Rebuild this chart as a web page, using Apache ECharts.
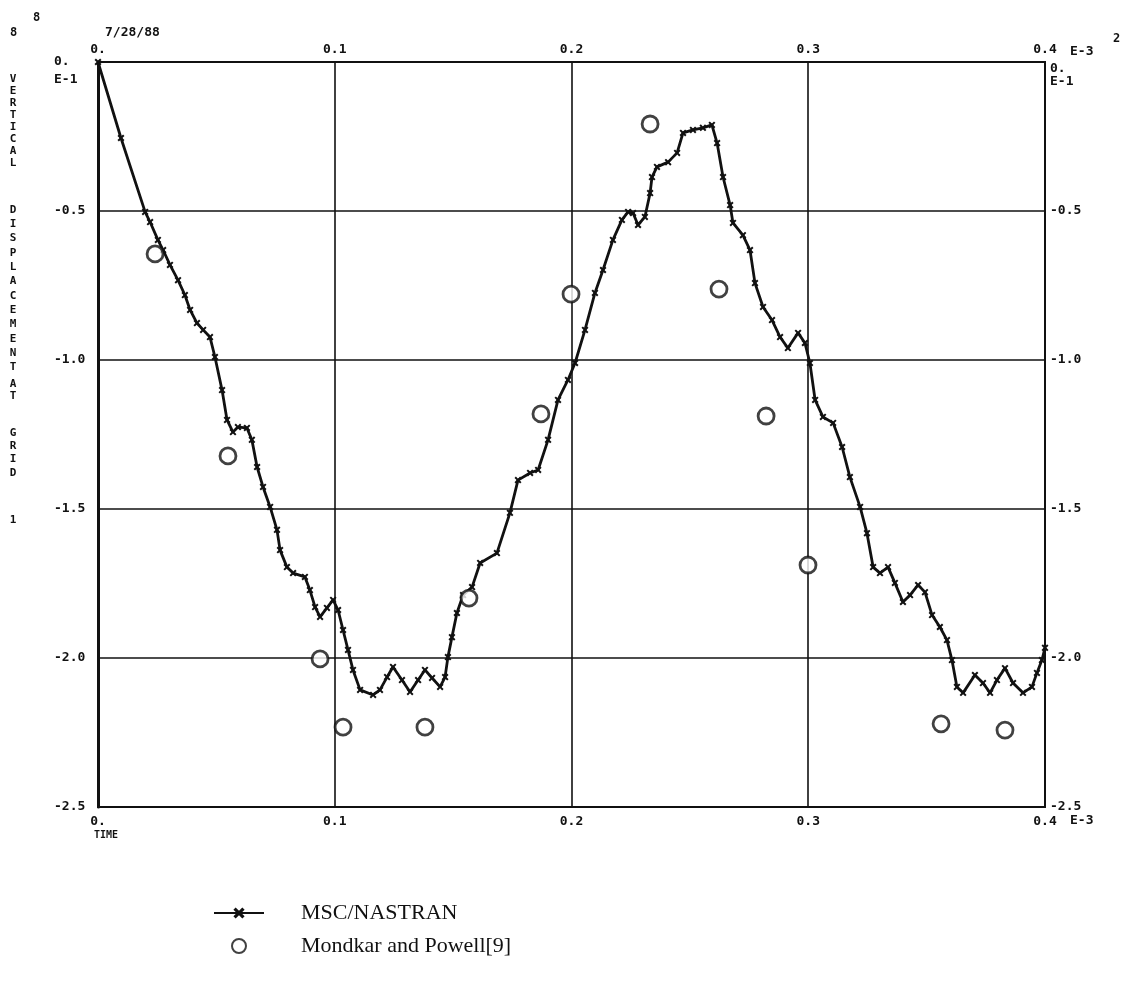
<!DOCTYPE html>
<html>
<head>
<meta charset="utf-8">
<script src="https://cdn.jsdelivr.net/npm/echarts@6/dist/echarts.min.js"></script>
<style>
  html, body { margin: 0; padding: 0; background: #fff; }
  #chart { width: 1122px; height: 983px; }
</style>
</head>
<body>
<div id="chart"></div>
<script>
// Time axis (E-3) and vertical displacement (E-1) at grid 1
const nastranTime = [
  0, 0.0097, 0.0199, 0.0220, 0.0253, 0.0275, 0.0304, 0.0338, 0.0367, 0.0389,
  0.0418, 0.0444, 0.0473, 0.0494, 0.0524, 0.0545, 0.0570, 0.0591, 0.0629, 0.0650,
  0.0672, 0.0697, 0.0727, 0.0756, 0.0769, 0.0798, 0.0824, 0.0874, 0.0895, 0.0917,
  0.0938, 0.0967, 0.0993, 0.1014, 0.1035, 0.1056, 0.1077, 0.1107, 0.1162, 0.1191,
  0.1221, 0.1246, 0.1284, 0.1318, 0.1352, 0.1381, 0.1411, 0.1445, 0.1466, 0.1478,
  0.1495, 0.1516, 0.1542, 0.1580, 0.1614, 0.1685, 0.1740, 0.1774, 0.1825, 0.1859,
  0.1901, 0.1943, 0.1985, 0.2015, 0.2057, 0.2099, 0.2133, 0.2175, 0.2213, 0.2239,
  0.2260, 0.2281, 0.2310, 0.2332, 0.2340, 0.2361, 0.2408, 0.2446, 0.2471, 0.2513,
  0.2555, 0.2593, 0.2615, 0.2640, 0.2670, 0.2682, 0.2724, 0.2754, 0.2775, 0.2809,
  0.2847, 0.2881, 0.2914, 0.2957, 0.2986, 0.3007, 0.3029, 0.3062, 0.3105, 0.3143,
  0.3176, 0.3219, 0.3248, 0.3274, 0.3303, 0.3337, 0.3366, 0.3400, 0.3430, 0.3464,
  0.3493, 0.3523, 0.3556, 0.3586, 0.3607, 0.3628, 0.3654, 0.3704, 0.3738, 0.3768,
  0.3797, 0.3831, 0.3865, 0.3907, 0.3945, 0.3966, 0.3987, 0.4000
];
const nastranDisp = [
  0, -0.255, -0.503, -0.537, -0.597, -0.631, -0.681, -0.732, -0.782, -0.832,
  -0.876, -0.899, -0.923, -0.990, -1.101, -1.201, -1.242, -1.225, -1.228, -1.268,
  -1.359, -1.426, -1.493, -1.570, -1.638, -1.695, -1.715, -1.728, -1.772, -1.829,
  -1.862, -1.832, -1.805, -1.839, -1.906, -1.973, -2.040, -2.107, -2.124, -2.107,
  -2.064, -2.030, -2.074, -2.114, -2.074, -2.040, -2.067, -2.097, -2.064, -1.997,
  -1.930, -1.849, -1.789, -1.762, -1.681, -1.648, -1.513, -1.403, -1.379, -1.369,
  -1.268, -1.134, -1.067, -1.010, -0.899, -0.775, -0.698, -0.597, -0.530, -0.503,
  -0.507, -0.547, -0.520, -0.440, -0.386, -0.352, -0.336, -0.305, -0.238, -0.228,
  -0.221, -0.211, -0.272, -0.386, -0.480, -0.540, -0.581, -0.631, -0.742, -0.822,
  -0.866, -0.923, -0.960, -0.909, -0.943, -1.010, -1.134, -1.191, -1.211, -1.292,
  -1.393, -1.493, -1.581, -1.695, -1.715, -1.695, -1.748, -1.812, -1.789, -1.755,
  -1.779, -1.856, -1.896, -1.940, -2.007, -2.097, -2.117, -2.057, -2.084, -2.117,
  -2.074, -2.034, -2.084, -2.117, -2.097, -2.050, -2.007, -1.966
];
const mondkarTime = [0.0241, 0.0549, 0.0938, 0.1035, 0.1381, 0.1567, 0.1871,
  0.1998, 0.2332, 0.2623, 0.2822, 0.2999, 0.3561, 0.3831];
const mondkarDisp = [-0.644, -1.322, -2.003, -2.232, -2.232, -1.799, -1.181,
  -0.779, -0.208, -0.762, -1.188, -1.688, -2.221, -2.242];

const xTicks = { min: 0, max: 0.4, step: 0.1 };
const yTicks = { min: -2.5, max: 0, step: 0.5 };
const seriesNames = ['MSC/NASTRAN', 'Mondkar and Powell[9]'];
const titleWords = ['VERTICAL', 'DISPLACEMENT', 'AT', 'GRID', '1'];

const INK = '#111';
const plotFont = 'DejaVu Sans Mono';
const crossSymbol = 'path://M0,2L2,0L5,3L8,0L10,2L7,5L10,8L8,10L5,7L2,10L0,8L3,5Z';

function xLabel(v) {
  if (Math.abs(v) < 1e-9) return '0.';
  return v.toFixed(1);
}
function yLabelLeft(v) {
  if (Math.abs(v) < 1e-9) return '\n0.\nE-1';
  return v.toFixed(1);
}
function yLabelRight(v) {
  if (Math.abs(v) < 1e-9) return '\n\n0.\nE-1';
  return v.toFixed(1);
}

const labelStyle = { color: INK, fontFamily: plotFont, fontWeight: 'bold', fontSize: 13 };

const chart = echarts.init(document.getElementById('chart'), null, { renderer: 'canvas' });

const option = {
  backgroundColor: '#fff',
  animation: false,
  grid: {
    left: 98, right: 77, top: 62, bottom: 176,
    show: true, borderColor: INK, borderWidth: 2, backgroundColor: 'transparent'
  },
  xAxis: [
    {
      type: 'value', position: 'bottom',
      min: xTicks.min, max: xTicks.max, interval: xTicks.step,
      axisLine: { show: true, lineStyle: { color: INK, width: 2 } },
      axisTick: { show: false },
      splitLine: { show: true, lineStyle: { color: INK, width: 1.6 } },
      axisLabel: Object.assign({}, labelStyle, {
        margin: 8,
        formatter: function (v) {
          if (Math.abs(v) < 1e-9) return '0.\n{t|TIME}';
          return xLabel(v);
        },
        rich: { t: { fontFamily: plotFont, fontWeight: 'bold', fontSize: 10, color: INK, padding: [2, 0, 0, 16] } }
      })
    },
    {
      type: 'value', position: 'top',
      min: xTicks.min, max: xTicks.max, interval: xTicks.step,
      axisLine: { show: true, lineStyle: { color: INK, width: 2 } },
      axisTick: { show: false },
      splitLine: { show: false },
      axisLabel: Object.assign({}, labelStyle, { margin: 6, formatter: xLabel })
    }
  ],
  yAxis: [
    {
      type: 'value', position: 'left',
      min: yTicks.min, max: yTicks.max, interval: yTicks.step,
      axisLine: { show: true, lineStyle: { color: INK, width: 3 } },
      axisTick: { show: false },
      splitLine: { show: true, lineStyle: { color: INK, width: 1.6 } },
      axisLabel: Object.assign({}, labelStyle, {
        margin: 44, align: 'left', lineHeight: 18, formatter: yLabelLeft
      })
    },
    {
      type: 'value', position: 'right',
      min: yTicks.min, max: yTicks.max, interval: yTicks.step,
      axisLine: { show: true, lineStyle: { color: INK, width: 2 } },
      axisTick: { show: false },
      splitLine: { show: false },
      axisLabel: Object.assign({}, labelStyle, {
        margin: 5, align: 'left', lineHeight: 13, formatter: yLabelRight
      })
    }
  ],
  legend: {
    orient: 'vertical',
    left: 213, top: 902, padding: 0,
    itemWidth: 50, itemHeight: 14, itemGap: 11,
    selectedMode: false,
    data: seriesNames,
    textStyle: {
      color: INK, fontFamily: 'Liberation Serif', fontSize: 22,
      padding: [0, 0, 0, 32]
    }
  },
  series: [
    {
      name: seriesNames[0],
      type: 'line',
      xAxisIndex: 0, yAxisIndex: 0,
      data: nastranTime.map((t, i) => [t, nastranDisp[i]]),
      lineStyle: { color: INK, width: 2.8 },
      itemStyle: { color: INK },
      symbol: crossSymbol,
      symbolSize: 7,
      showAllSymbol: true,
      z: 3
    },
    {
      name: seriesNames[1],
      type: 'scatter',
      xAxisIndex: 0, yAxisIndex: 0,
      data: mondkarTime.map((t, i) => [t, mondkarDisp[i]]),
      symbol: 'circle',
      symbolSize: 16,
      itemStyle: { color: '#fff', borderColor: INK, borderWidth: 2.8 },
      z: 4
    }
  ]
};
chart.setOption(option);

// Header / side annotations in plotter lettering
const endX = chart.convertToPixel({ xAxisIndex: 0 }, xTicks.max);
const topY = chart.convertToPixel({ yAxisIndex: 0 }, yTicks.max);
const botY = chart.convertToPixel({ yAxisIndex: 0 }, yTicks.min);
const startX = chart.convertToPixel({ xAxisIndex: 0 }, xTicks.min);

const annot = (text, x, y, size, extra) => Object.assign({
  type: 'text', x: x, y: y, silent: true,
  style: Object.assign({
    text: text, fill: INK, fontFamily: plotFont, fontWeight: 'bold', fontSize: size,
    verticalAlign: 'middle', align: 'left'
  }, extra || {})
});

const graphics = [
  annot('E-3', endX + 25, topY - 10, 13),
  annot('E-3', endX + 25, botY + 14, 13),
  annot('7/28/88', startX + 7, topY - 29, 13),
  annot('8', 33, 18, 12),
  annot('8', 10, 33, 12),
  annot('2', 1113, 39, 12)
];

// Vertical axis title, one letter per line
const wordStarts = [79, 210, 384, 433, 520];
const wordPitch = [12, 14.3, 12, 13.3, 12];
titleWords.forEach((w, k) => {
  graphics.push(annot(w.split('').join('\n'), 13, wordStarts[k] - wordPitch[k] / 2, 11, {
    align: 'center', verticalAlign: 'top', lineHeight: wordPitch[k]
  }));
});

chart.setOption({ graphic: graphics });
</script>
</body>
</html>
